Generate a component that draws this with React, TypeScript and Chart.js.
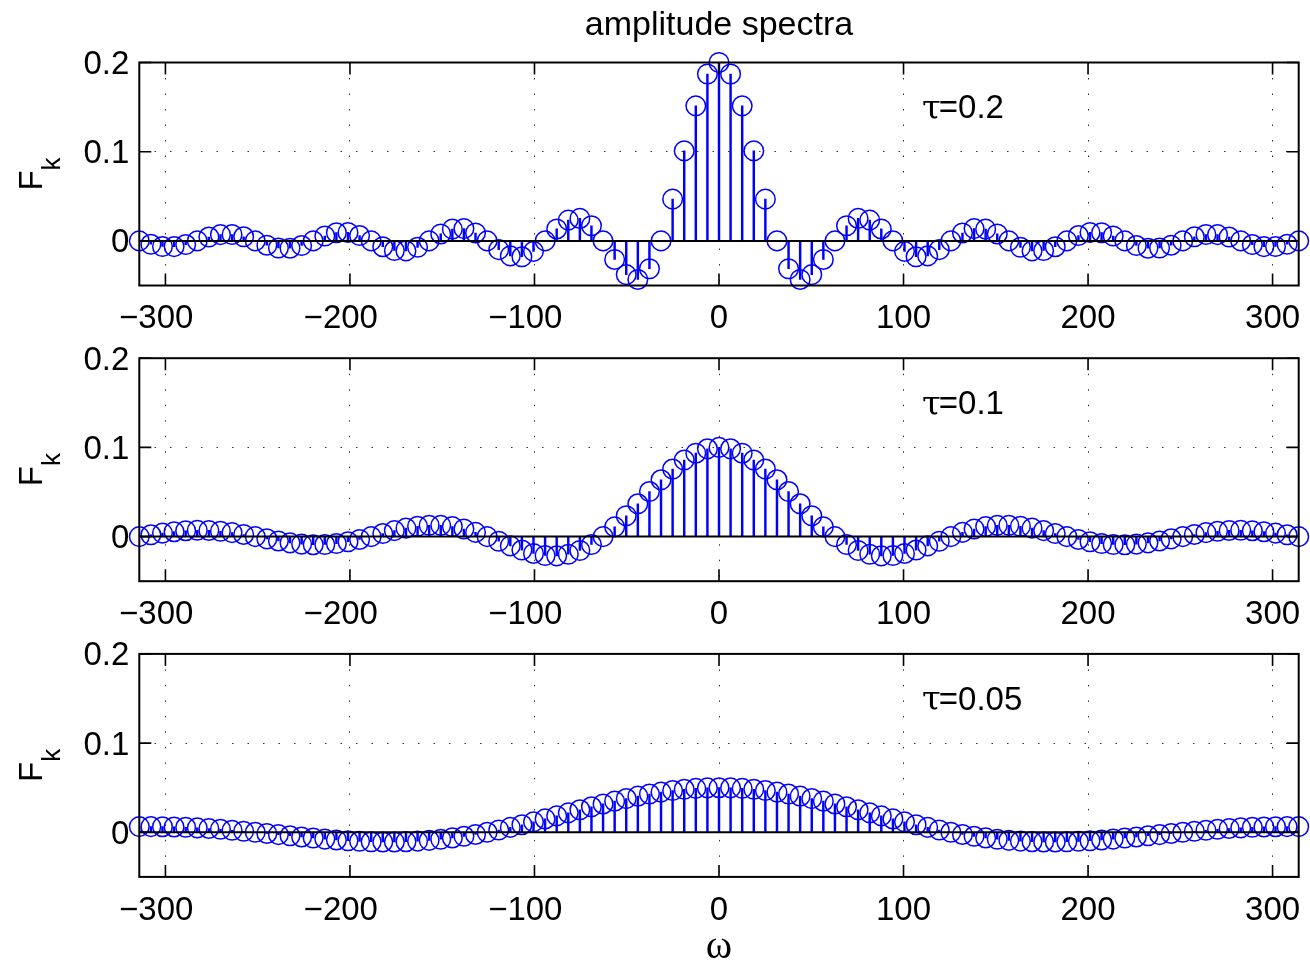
import React, { useEffect, useRef } from 'react';
import { Chart, registerables } from 'chart.js';

Chart.register(...registerables);

// ---------------- data ----------------
const OMEGA = [
  -314.16, -307.88, -301.59, -295.31, -289.03, -282.74, -276.46, -270.18, -263.89, -257.61,
  -251.33, -245.04, -238.76, -232.48, -226.19, -219.91, -213.63, -207.35, -201.06, -194.78,
  -188.5, -182.21, -175.93, -169.65, -163.36, -157.08, -150.8, -144.51, -138.23, -131.95,
  -125.66, -119.38, -113.1, -106.81, -100.53, -94.25, -87.96, -81.68, -75.4, -69.12,
  -62.83, -56.55, -50.27, -43.98, -37.7, -31.42, -25.13, -18.85, -12.57, -6.28,
  0,
  6.28, 12.57, 18.85, 25.13, 31.42, 37.7, 43.98, 50.27, 56.55, 62.83,
  69.12, 75.4, 81.68, 87.96, 94.25, 100.53, 106.81, 113.1, 119.38, 125.66,
  131.95, 138.23, 144.51, 150.8, 157.08, 163.36, 169.65, 175.93, 182.21, 188.5,
  194.78, 201.06, 207.35, 213.63, 219.91, 226.19, 232.48, 238.76, 245.04, 251.33,
  257.61, 263.89, 270.18, 276.46, 282.74, 289.03, 295.31, 301.59, 307.88, 314.16,
];

const F_TAU_02 = [
  0, -0.0038, -0.0063, -0.0064, -0.0041, 0, 0.0043, 0.007, 0.0072, 0.0046,
  0, -0.0048, -0.008, -0.0082, -0.0052, 0, 0.0055, 0.0092, 0.0095, 0.006,
  0, -0.0065, -0.0108, -0.0112, -0.0072, 0, 0.0078, 0.0132, 0.0138, 0.0089,
  0, -0.0098, -0.0168, -0.0178, -0.0117, 0, 0.0134, 0.0233, 0.0252, 0.017,
  0, -0.0208, -0.0378, -0.0432, -0.0312, 0, 0.0468, 0.1009, 0.1514, 0.1871,
  0.2,
  0.1871, 0.1514, 0.1009, 0.0468, 0, -0.0312, -0.0432, -0.0378, -0.0208, 0,
  0.017, 0.0252, 0.0233, 0.0134, 0, -0.0117, -0.0178, -0.0168, -0.0098, 0,
  0.0089, 0.0138, 0.0132, 0.0078, 0, -0.0072, -0.0112, -0.0108, -0.0065, 0,
  0.006, 0.0095, 0.0092, 0.0055, 0, -0.0052, -0.0082, -0.008, -0.0048, 0,
  0.0046, 0.0072, 0.007, 0.0043, 0, -0.0041, -0.0064, -0.0063, -0.0038, 0,
];

const F_TAU_01 = [
  0, 0.002, 0.0039, 0.0055, 0.0066, 0.0071, 0.0069, 0.006, 0.0045, 0.0024,
  0, -0.0025, -0.0049, -0.007, -0.0084, -0.0091, -0.0089, -0.0078, -0.0058, -0.0032,
  0, 0.0034, 0.0067, 0.0095, 0.0116, 0.0127, 0.0126, 0.0112, 0.0085, 0.0047,
  0, -0.0052, -0.0104, -0.0151, -0.0189, -0.0212, -0.0216, -0.0198, -0.0156, -0.0089,
  0, 0.0109, 0.0234, 0.0368, 0.0505, 0.0637, 0.0757, 0.0858, 0.0935, 0.0984,
  0.1,
  0.0984, 0.0935, 0.0858, 0.0757, 0.0637, 0.0505, 0.0368, 0.0234, 0.0109, 0,
  -0.0089, -0.0156, -0.0198, -0.0216, -0.0212, -0.0189, -0.0151, -0.0104, -0.0052, 0,
  0.0047, 0.0085, 0.0112, 0.0126, 0.0127, 0.0116, 0.0095, 0.0067, 0.0034, 0,
  -0.0032, -0.0058, -0.0078, -0.0089, -0.0091, -0.0084, -0.007, -0.0049, -0.0025, 0,
  0.0024, 0.0045, 0.006, 0.0069, 0.0071, 0.0066, 0.0055, 0.0039, 0.002, 0,
];

const F_TAU_005 = [
  0.0064, 0.0064, 0.0063, 0.006, 0.0056, 0.005, 0.0043, 0.0034, 0.0023, 0.0012,
  0, -0.0013, -0.0026, -0.0039, -0.0052, -0.0064, -0.0076, -0.0086, -0.0095, -0.0101,
  -0.0106, -0.0108, -0.0108, -0.0105, -0.0099, -0.009, -0.0078, -0.0063, -0.0045, -0.0024,
  0, 0.0026, 0.0055, 0.0085, 0.0117, 0.015, 0.0184, 0.0218, 0.0252, 0.0286,
  0.0318, 0.0349, 0.0378, 0.0405, 0.0429, 0.045, 0.0468, 0.0482, 0.0492, 0.0498,
  0.05,
  0.0498, 0.0492, 0.0482, 0.0468, 0.045, 0.0429, 0.0405, 0.0378, 0.0349, 0.0318,
  0.0286, 0.0252, 0.0218, 0.0184, 0.015, 0.0117, 0.0085, 0.0055, 0.0026, 0,
  -0.0024, -0.0045, -0.0063, -0.0078, -0.009, -0.0099, -0.0105, -0.0108, -0.0108, -0.0106,
  -0.0101, -0.0095, -0.0086, -0.0076, -0.0064, -0.0052, -0.0039, -0.0026, -0.0013, 0,
  0.0012, 0.0023, 0.0034, 0.0043, 0.005, 0.0056, 0.006, 0.0063, 0.0064, 0.0064,
];

const SERIES = [F_TAU_02, F_TAU_01, F_TAU_005];
const TAU_VALUES = ['0.2', '0.1', '0.05'];
const X_TICKS = [-300, -200, -100, 0, 100, 200, 300];
const Y_TICKS = [0, 0.1, 0.2];
const X_LIMITS = [-314.16, 314.16];
const Y_LIMITS = [-0.05, 0.2];
const TITLE = 'amplitude spectra';
const X_LABEL = 'ω';
const Y_LABEL_MAIN = 'F';
const Y_LABEL_SUB = 'k';
const TAU_SYMBOL = 'τ';
const ANNOT_POS = { x: 110, y: 0.15 };

// ---------------- layout / style ----------------
const W = 1310;
const H = 961;
const PLOT_LEFT = 139.3;
const PLOT_RIGHT = 1301.7;
const PLOT_TOPS = [62.5, 358.2, 653.9];
const PLOT_H = 223;
const X_AXIS_H = 60;
const SANS = '"Liberation Sans", Arial, Helvetica, sans-serif';
const SERIF = '"Liberation Serif", "Times New Roman", serif';
const SYMBOL_SERIF = '"DejaVu Serif", "Liberation Serif", serif';
const BLUE = '#0000ff';

function fmtX(v: number): string {
  if (v < 0) return '\u2212' + String(Math.abs(v)) + '  ';
  return String(v);
}

function makePlugin(index: number) {
  return {
    id: 'matlabAxes' + index,
    afterDatasetsDraw(chart: any) {
      const { ctx, chartArea } = chart;
      const { left, right, top, bottom } = chartArea;
      const xs = chart.scales.x;
      const ys = chart.scales.y;
      ctx.save();
      // box
      ctx.strokeStyle = '#000';
      ctx.lineWidth = 2;
      ctx.strokeRect(left, top, right - left, bottom - top);
      // inward ticks
      ctx.lineWidth = 1.6;
      ctx.beginPath();
      X_TICKS.forEach((v) => {
        const px = xs.getPixelForValue(v);
        ctx.moveTo(px, bottom);
        ctx.lineTo(px, bottom - 12);
        ctx.moveTo(px, top);
        ctx.lineTo(px, top + 12);
      });
      Y_TICKS.forEach((v) => {
        const py = ys.getPixelForValue(v);
        ctx.moveTo(left, py);
        ctx.lineTo(left + 12, py);
        ctx.moveTo(right, py);
        ctx.lineTo(right - 12, py);
      });
      ctx.stroke();

      ctx.fillStyle = '#000';
      // tau annotation
      const ax = xs.getPixelForValue(ANNOT_POS.x);
      const ay = ys.getPixelForValue(ANNOT_POS.y) + 2;
      ctx.textBaseline = 'middle';
      ctx.textAlign = 'left';
      ctx.font = `34px ${SYMBOL_SERIF}`;
      ctx.fillText(TAU_SYMBOL, ax, ay + 1);
      const tw = ctx.measureText(TAU_SYMBOL).width;
      ctx.font = `33px ${SANS}`;
      ctx.fillText('=' + TAU_VALUES[index], ax + tw - 2, ay);

      // y label F_k (rotated)
      const cy = (top + bottom) / 2;
      ctx.save();
      ctx.translate(41.7, cy);
      ctx.rotate(-Math.PI / 2);
      ctx.textBaseline = 'alphabetic';
      ctx.font = `33px ${SANS}`;
      const fw = ctx.measureText(Y_LABEL_MAIN).width;
      ctx.font = `26px ${SANS}`;
      const kw = ctx.measureText(Y_LABEL_SUB).width;
      const start = -(fw + kw) / 2;
      ctx.font = `33px ${SANS}`;
      ctx.fillText(Y_LABEL_MAIN, start, 0);
      ctx.font = `26px ${SANS}`;
      ctx.fillText(Y_LABEL_SUB, start + fw, 18);
      ctx.restore();

      // title / x label
      const cx = (left + right) / 2;
      ctx.textAlign = 'center';
      ctx.textBaseline = 'alphabetic';
      if (index === 0) {
        ctx.font = `34px ${SANS}`;
        ctx.fillText(TITLE, cx, 35);
      }
      if (index === SERIES.length - 1) {
        ctx.font = `40px ${SERIF}`;
        ctx.fillText(X_LABEL, cx, 958);
      }
      ctx.restore();
    },
  };
}

function makeConfig(index: number): any {
  const values = SERIES[index];
  const points = OMEGA.map((x, i) => ({ x, y: values[i] }));
  const top = PLOT_TOPS[index];
  return {
    type: 'scatter',
    data: {
      datasets: [
        {
          type: 'line',
          label: 'baseline',
          data: [
            { x: X_LIMITS[0], y: 0 },
            { x: X_LIMITS[1], y: 0 },
          ],
          borderColor: '#000',
          borderWidth: 2,
          pointRadius: 0,
          fill: false,
          order: 0,
        },
        {
          type: 'scatter',
          label: 'F_k',
          data: points,
          showLine: false,
          pointStyle: 'circle',
          pointRadius: 9.8,
          pointBorderWidth: 1.5,
          pointBorderColor: BLUE,
          pointBackgroundColor: 'rgba(0,0,0,0)',
          clip: false,
          order: 1,
        },
        {
          type: 'bar',
          label: 'stems',
          data: points,
          backgroundColor: BLUE,
          borderWidth: 0,
          barThickness: 1.8,
          grouped: false,
          order: 2,
        },
      ],
    },
    options: {
      responsive: false,
      animation: false,
      events: [],
      layout: {
        padding: {
          left: 0,
          right: W - PLOT_RIGHT,
          top: top,
          bottom: H - (top + PLOT_H) - X_AXIS_H,
        },
      },
      plugins: {
        legend: { display: false },
        title: { display: false },
        tooltip: { enabled: false },
      },
      scales: {
        x: {
          type: 'linear',
          min: X_LIMITS[0],
          max: X_LIMITS[1],
          offset: false,
          afterBuildTicks: (scale: any) => {
            scale.ticks = X_TICKS.map((v) => ({ value: v }));
          },
          afterFit: (scale: any) => {
            scale.height = X_AXIS_H;
            scale.paddingLeft = 0;
            scale.paddingRight = 0;
          },
          ticks: {
            callback: (v: number) => fmtX(v),
            font: { family: SANS, size: 33 },
            color: '#000',
            padding: 14,
            maxRotation: 0,
            minRotation: 0,
            autoSkip: false,
          },
          grid: {
            color: '#333',
            lineWidth: 1,
            drawTicks: false,
            offset: false,
          },
          border: { display: false, dash: [1.5, 14] },
        },
        y: {
          type: 'linear',
          min: Y_LIMITS[0],
          max: Y_LIMITS[1],
          afterBuildTicks: (scale: any) => {
            scale.ticks = Y_TICKS.map((v) => ({ value: v }));
          },
          afterFit: (scale: any) => {
            scale.width = PLOT_LEFT;
            scale.paddingTop = 0;
            scale.paddingBottom = 0;
          },
          ticks: {
            callback: (v: number) => String(v),
            font: { family: SANS, size: 33 },
            color: '#000',
            padding: 10,
            labelOffset: 2.5,
            autoSkip: false,
          },
          grid: {
            color: '#333',
            lineWidth: 1,
            drawTicks: false,
          },
          border: { display: false, dash: [1.5, 14] },
        },
      },
    },
    plugins: [makePlugin(index)],
  };
}

function Subplot({ index }: { index: number }) {
  const ref = useRef<HTMLCanvasElement | null>(null);
  useEffect(() => {
    if (!ref.current) return;
    const chart = new Chart(ref.current, makeConfig(index));
    return () => chart.destroy();
  }, [index]);
  return (
    <canvas
      ref={ref}
      width={W}
      height={H}
      style={{ position: 'absolute', left: 0, top: 0, width: W, height: H }}
    />
  );
}

export default function App() {
  return (
    <div
      style={{
        position: 'absolute',
        left: 0,
        top: 0,
        width: W,
        height: H,
        background: '#fff',
        overflow: 'hidden',
      }}
    >
      {SERIES.map((_, i) => (
        <Subplot key={i} index={i} />
      ))}
    </div>
  );
}
